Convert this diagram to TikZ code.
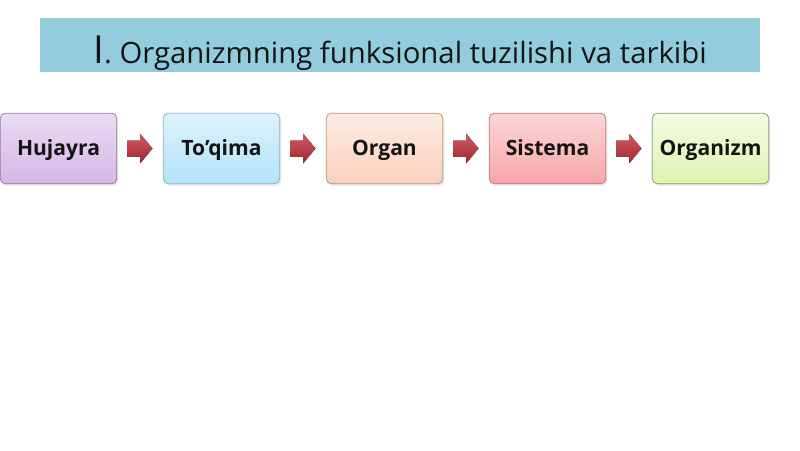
\documentclass[tikz,border=0pt]{standalone}
\usepackage{fontspec}
\setmainfont{Open Sans}
\usetikzlibrary{shadows,calc}
\definecolor{banner}{HTML}{93CDDD}
\definecolor{txt}{HTML}{141414}
\definecolor{arrowred}{HTML}{C8303C}
\tikzset{
  stagebox/.style={draw=#1!30!gray!80!white, line width=0.6pt, rounded corners=4pt,
    minimum width=87.5pt, minimum height=53pt, inner sep=0pt,
    font=\fontsize{15.8}{17}\selectfont\bfseries, text=txt,
    text height=1.1em, text depth=0pt,
    drop shadow={opacity=0.18, shadow xshift=1.2pt, shadow yshift=-1.5pt}},
  flowarrow/.style={top color=arrowred!80!white, bottom color=arrowred!80!black, draw=none},
}
\newcommand{\blockarrow}[1]{%
  \fill[flowarrow] ($(#1)+(-13,-8)$) -- ($(#1)+(0,-8)$) -- ($(#1)+(0,-15)$) -- ($(#1)+(12.5,0)$)
    -- ($(#1)+(0,15)$) -- ($(#1)+(0,8)$) -- ($(#1)+(-13,8)$) -- cycle;}
\begin{document}
\begin{tikzpicture}[x=0.75pt,y=-0.75pt]
\useasboundingbox (0,0) rectangle (800,450);
\fill[white] (0,0) rectangle (800,450);
\node[fill=banner, minimum width=540pt, minimum height=40.5pt, inner sep=0pt] (title) at (400,45) {};
\node[text=txt, anchor=base, inner sep=0pt] (titletext) at (400,63) {\fontsize{29}{32}\selectfont I\fontsize{22}{24}\selectfont. Organizmning funksional tuzilishi va tarkibi};
\node[stagebox=violet, top color={rgb,255:red,234;green,220;blue,242}, bottom color={rgb,255:red,214;green,182;blue,230}] (b1) at (58.5,148.5) {Hujayra};
\node[stagebox=cyan, top color={rgb,255:red,220;green,243;blue,252}, bottom color={rgb,255:red,178;green,227;blue,248}] (b2) at (221.5,148.5) {To’qima};
\node[stagebox=orange, top color={rgb,255:red,254;green,236;blue,227}, bottom color={rgb,255:red,249;green,208;blue,190}] (b3) at (384.5,148.5) {Organ};
\node[stagebox=red, top color={rgb,255:red,252;green,214;blue,214}, bottom color={rgb,255:red,246;green,166;blue,168}] (b4) at (547.5,148.5) {Sistema};
\node[stagebox=green!60!black, top color={rgb,255:red,243;green,252;blue,224}, bottom color={rgb,255:red,222;green,244;blue,176}] (b5) at (710.5,148.5) {Organizm};
\coordinate (a1) at ($(b1.east)!0.5!(b2.west)$);
\coordinate (a2) at ($(b2.east)!0.5!(b3.west)$);
\coordinate (a3) at ($(b3.east)!0.5!(b4.west)$);
\coordinate (a4) at ($(b4.east)!0.5!(b5.west)$);
\blockarrow{a1}
\blockarrow{a2}
\blockarrow{a3}
\blockarrow{a4}
\end{tikzpicture}
\end{document}
